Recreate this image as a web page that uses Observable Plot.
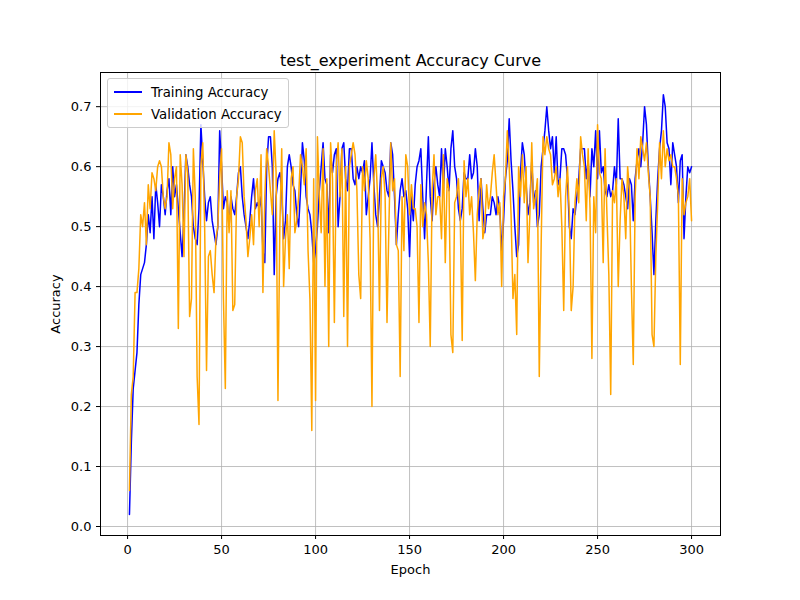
<!DOCTYPE html>
<html>
<head>
<meta charset="utf-8">
<script src="https://cdn.jsdelivr.net/npm/d3@7"></script>
<script src="https://cdn.jsdelivr.net/npm/@observablehq/plot@0.6"></script>
<style>
  body { margin: 0; background: #fff; font-family: "DejaVu Sans", sans-serif; }
  #wrap { position: relative; width: 800px; height: 600px; }
  #legend { position: absolute; left: 107px; top: 78px; background: rgba(255,255,255,0.8);
    border: 1px solid #ccc; border-radius: 3px; padding: 2px 6px; font-size: 13.3px; }
  #legend div { display: flex; align-items: center; height: 22px; }
  #legend span.sw { display: inline-block; width: 28px; height: 2px; margin-right: 9px; }
</style>
</head>
<body>
<div id="wrap">
  <div id="chart"></div>
  <div id="legend">
    <div><span class="sw" style="background:blue"></span>Training Accuracy</div>
    <div><span class="sw" style="background:orange"></span>Validation Accuracy</div>
  </div>
</div>
<script>
const title = "test_experiment Accuracy Curve";

const trainAcc = [
  .02,.14,.23,.26,.29,.37,.42,.43,.44,.47,
  .52,.49,.55,.48,.57,.54,.50,.57,.55,.52,
  .56,.58,.52,.60,.55,.57,.53,.49,.45,.52,
  .62,.60,.57,.55,.50,.48,.47,.53,.67,.61,
  .55,.51,.54,.55,.51,.49,.47,.50,.66,.60,
  .53,.55,.54,.50,.55,.53,.52,.55,.59,.60,
  .55,.52,.50,.48,.51,.55,.58,.53,.54,.53,
  .55,.46,.44,.60,.65,.65,.60,.42,.55,.58,
  .59,.56,.48,.51,.60,.62,.60,.57,.56,.52,
  .50,.56,.64,.61,.55,.53,.52,.49,.44,.46,
  .50,.56,.60,.64,.58,.57,.49,.62,.59,.62,
  .63,.50,.55,.63,.64,.58,.56,.63,.63,.58,
  .57,.60,.58,.60,.59,.61,.52,.55,.58,.64,
  .57,.52,.50,.55,.61,.60,.59,.56,.55,.64,
  .62,.55,.47,.52,.56,.58,.55,.56,.53,.45,
  .55,.51,.57,.60,.61,.63,.55,.48,.57,.65,
  .55,.51,.57,.60,.57,.55,.63,.56,.63,.60,
  .56,.63,.66,.60,.58,.53,.51,.53,.59,.58,
  .58,.62,.58,.59,.63,.60,.51,.58,.53,.49,
  .52,.52,.52,.55,.54,.52,.55,.53,.46,.51,
  .58,.61,.68,.61,.56,.50,.45,.47,.59,.64,
  .62,.57,.52,.54,.61,.54,.56,.50,.52,.60,
  .63,.66,.70,.66,.63,.65,.59,.65,.57,.58,
  .63,.63,.62,.58,.50,.48,.53,.52,.55,.58,
  .63,.63,.63,.58,.61,.55,.63,.60,.66,.58,
  .66,.59,.60,.56,.55,.57,.55,.56,.60,.57,
  .68,.58,.58,.57,.55,.53,.58,.57,.51,.58,
  .61,.63,.60,.64,.70,.67,.60,.55,.49,.42,
  .51,.58,.63,.66,.72,.70,.64,.63,.57,.64,
  .62,.60,.54,.61,.62,.48,.55,.60,.59,.60
];

const valAcc = [
  .06,.22,.25,.39,.39,.43,.52,.50,.54,.47,
  .57,.53,.59,.58,.56,.60,.61,.60,.55,.53,
  .55,.64,.62,.53,.58,.60,.33,.62,.57,.45,
  .62,.59,.35,.38,.63,.55,.25,.17,.60,.64,
  .50,.26,.45,.46,.42,.39,.48,.50,.58,.63,
  .38,.23,.56,.49,.56,.36,.37,.55,.58,.65,
  .64,.55,.51,.45,.48,.52,.47,.56,.58,.50,
  .62,.39,.55,.63,.60,.56,.52,.66,.59,.21,
  .50,.63,.40,.48,.52,.43,.58,.60,.49,.51,
  .55,.62,.60,.57,.63,.46,.38,.16,.58,.21,
  .65,.55,.49,.63,.40,.58,.30,.64,.58,.34,
  .60,.64,.55,.63,.35,.60,.30,.60,.62,.64,
  .62,.56,.42,.38,.60,.56,.61,.58,.48,.20,
  .58,.62,.55,.36,.58,.60,.55,.34,.50,.64,
  .56,.58,.47,.46,.25,.55,.46,.62,.60,.52,
  .57,.53,.53,.50,.34,.57,.50,.54,.52,.44,
  .30,.56,.62,.52,.55,.55,.48,.62,.44,.58,
  .56,.32,.29,.54,.55,.58,.51,.31,.61,.55,
  .58,.52,.55,.49,.41,.52,.56,.58,.48,.50,
  .57,.53,.55,.59,.62,.57,.52,.54,.40,.55,
  .58,.66,.60,.52,.38,.42,.32,.60,.55,.62,
  .54,.60,.44,.52,.64,.53,.55,.58,.25,.47,
  .65,.62,.65,.63,.62,.57,.58,.60,.55,.58,
  .50,.36,.55,.60,.52,.36,.40,.54,.58,.54,
  .65,.62,.60,.51,.63,.53,.28,.55,.49,.67,
  .59,.58,.44,.63,.52,.42,.22,.56,.54,.58,
  .40,.51,.58,.55,.48,.60,.56,.40,.27,.55,
  .63,.58,.65,.63,.61,.64,.59,.55,.32,.30,
  .45,.54,.64,.58,.66,.60,.63,.61,.62,.60,
  .60,.58,.55,.27,.58,.52,.54,.55,.58,.51
];

const xTicks = [0, 50, 100, 150, 200, 250, 300];
const yTicks = [0, 0.1, 0.2, 0.3, 0.4, 0.5, 0.6, 0.7];

const train = trainAcc.map((v, i) => ({ epoch: i + 1, acc: v }));
const val = valAcc.map((v, i) => ({ epoch: i + 1, acc: v }));

const chart = Plot.plot({
  width: 800,
  height: 600,
  marginLeft: 100,
  marginRight: 80,
  marginTop: 72,
  marginBottom: 65,
  style: { fontFamily: "DejaVu Sans, sans-serif", fontSize: "13px", color: "#000", background: "#fff" },
  x: { domain: [-14.4, 315.4], ticks: xTicks, label: "Epoch", labelAnchor: "center", labelArrow: "none", labelOffset: 38, tickSize: 4 },
  y: { domain: [-0.015, 0.757], ticks: yTicks, tickFormat: d3.format(".1f"), label: "Accuracy", labelAnchor: "center", labelArrow: "none", labelOffset: 50, tickSize: 4 },
  marks: [
    Plot.gridX(xTicks, { stroke: "#b0b0b0", strokeOpacity: 1, strokeWidth: 0.8 }),
    Plot.gridY(yTicks, { stroke: "#b0b0b0", strokeOpacity: 1, strokeWidth: 0.8 }),
    Plot.line(train, { x: "epoch", y: "acc", stroke: "blue", strokeWidth: 1.5 }),
    Plot.line(val, { x: "epoch", y: "acc", stroke: "orange", strokeWidth: 1.5 }),
    Plot.frame({ stroke: "#000" }),
    Plot.text([title], { frameAnchor: "top", dy: -7, fontSize: 16, lineAnchor: "bottom" })
  ]
});

document.getElementById("chart").replaceChildren(chart);
</script>
</body>
</html>
